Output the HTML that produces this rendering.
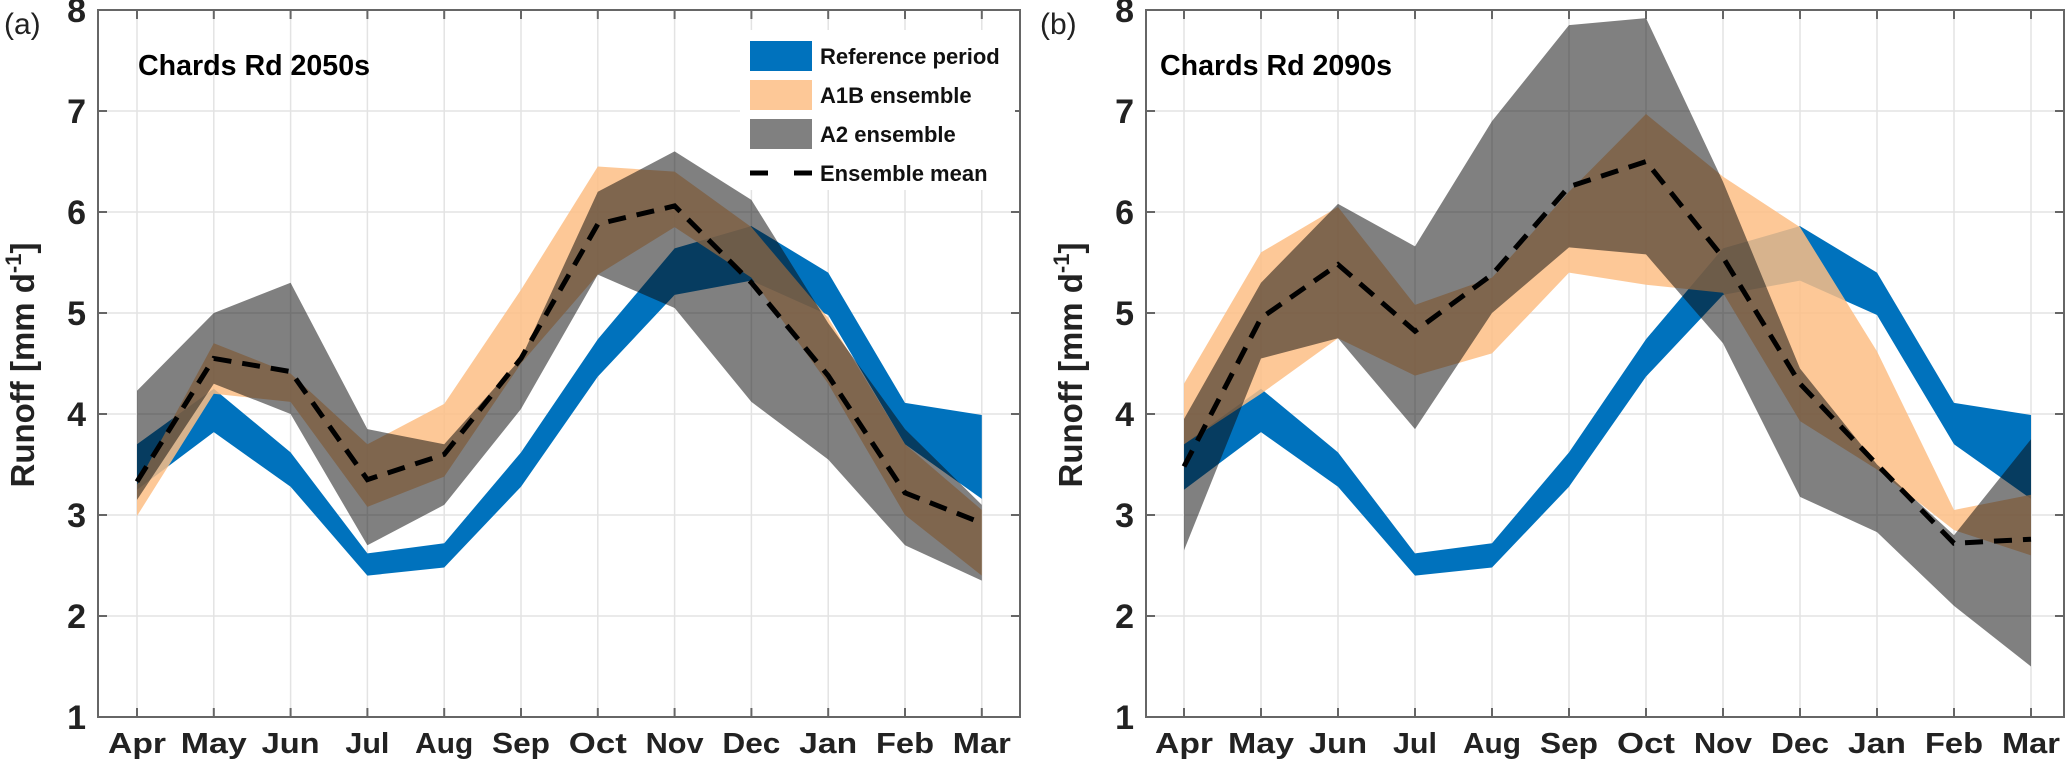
<!DOCTYPE html>
<html><head><meta charset="utf-8">
<style>
html,body{margin:0;padding:0;background:#fff;}
svg{display:block;font-family:"Liberation Sans",sans-serif;}
</style></head>
<body>
<svg id="chart" width="2067" height="770" viewBox="0 0 2067 770" xmlns="http://www.w3.org/2000/svg"></svg>
<script>
const months = ["Apr","May","Jun","Jul","Aug","Sep","Oct","Nov","Dec","Jan","Feb","Mar"];
const yTicks = [1,2,3,4,5,6,7,8];
// Reference period (same in both panels)
const refLow  = [3.25,3.82,3.28,2.40,2.48,3.28,4.37,5.18,5.32,4.98,3.70,3.16];
const refHigh = [3.70,4.25,3.62,2.62,2.72,3.62,4.74,5.64,5.86,5.40,4.11,3.99];
// Panel (a) 2050s
const a1bLowA  = [2.99,4.20,4.12,3.08,3.38,4.50,5.38,5.85,5.35,4.30,3.00,2.40];
const a1bHighA = [3.30,4.70,4.40,3.70,4.10,5.23,6.45,6.40,5.85,4.95,3.70,3.05];
const a2LowA   = [3.15,4.30,4.00,2.70,3.10,4.05,5.38,5.05,4.12,3.55,2.70,2.35];
const a2HighA  = [4.23,5.00,5.30,3.85,3.70,4.55,6.20,6.60,6.12,4.90,3.85,3.10];
const meanA    = [3.33,4.55,4.42,3.35,3.60,4.55,5.88,6.06,5.30,4.38,3.22,2.92];
// Panel (b) 2090s
const a1bLowB  = [3.70,4.20,4.75,4.38,4.60,5.40,5.28,5.20,3.93,3.45,2.85,2.60];
const a1bHighB = [4.30,5.60,6.05,5.08,5.35,6.20,6.97,6.35,5.85,4.62,3.05,3.20];
const a2LowB   = [2.65,4.55,4.75,3.85,5.00,5.65,5.58,4.70,3.18,2.83,2.10,1.50];
const a2HighB  = [3.95,5.30,6.08,5.66,6.90,7.85,7.92,6.30,4.45,3.50,2.80,3.75];
const meanB    = [3.48,4.95,5.48,4.82,5.38,6.25,6.50,5.55,4.30,3.50,2.72,2.76];

const svg = document.getElementById('chart');
const NS = "http://www.w3.org/2000/svg";
const ORANGE = '#fdbe85';
const GRAY = '#0b0b0b', GRAY_OP = 0.52;
function mk(tag, attrs, parent){
  const e = document.createElementNS(NS, tag);
  for (const k in attrs) e.setAttribute(k, attrs[k]);
  (parent||svg).appendChild(e);
  return e;
}
function panel(cfg){
  const g = mk('g', {});
  
  
  const xs = i => cfg.x0 + i*cfg.dx;
  const ys = v => 717 - (v-1)*101;
  const left = cfg.axisX, right = cfg.right, top = ys(8), bot = ys(1);
  yTicks.forEach(t => {
    const l = mk('line',{x1:left,x2:right,y1:ys(t),y2:ys(t),stroke:'#e3e3e3','stroke-width':1.5},g);
    
    
  });
  months.forEach((m,i) => {
    const l = mk('line',{x1:xs(i),x2:xs(i),y1:top,y2:bot,stroke:'#e3e3e3','stroke-width':1.5},g);
    
    
  });
  function band(lo, hi, fill, op, nm){
    let d = 'M' + lo.map((v,i)=>xs(i)+','+ys(v)).join(' L');
    d += ' L' + hi.map((v,i)=>[xs(i),ys(v)]).reverse().map(p=>p[0]+','+p[1]).join(' L') + ' Z';
    const p = mk('path',{d:d,fill:fill,'fill-opacity':op},g);
    
    
  }
  band(refLow, refHigh, '#0072bd', 1, 'reference-band');
  band(cfg.a1bLow, cfg.a1bHigh, ORANGE, 0.85, 'a1b-band');
  band(cfg.a2Low, cfg.a2High, GRAY, GRAY_OP, 'a2-band');
  const ml = mk('polyline',{points:cfg.mean.map((v,i)=>xs(i)+','+ys(v)).join(' '),fill:'none',stroke:'#000','stroke-width':5,'stroke-dasharray':'18 11'},g);
  
  
  const box = mk('rect',{x:left,y:top,width:right-left,height:bot-top,fill:'none',stroke:'#666','stroke-width':2},g);
  
  
  yTicks.forEach(t => {
    mk('line',{x1:left,x2:left+9,y1:ys(t),y2:ys(t),stroke:'#666','stroke-width':2},g);
    mk('line',{x1:right,x2:right-9,y1:ys(t),y2:ys(t),stroke:'#666','stroke-width':2},g);
    const tx = mk('text',{x:left-12,y:ys(t)+12,'text-anchor':'end','font-size':34,'font-weight':'bold',fill:'#222'},g);
    tx.textContent = t;
    
    
  });
  months.forEach((m,i) => {
    mk('line',{x1:xs(i),x2:xs(i),y1:bot,y2:bot-9,stroke:'#666','stroke-width':2},g);
    mk('line',{x1:xs(i),x2:xs(i),y1:top,y2:top+9,stroke:'#666','stroke-width':2},g);
    const tx = mk('text',{x:xs(i),y:753,'text-anchor':'middle','font-size':29,'font-weight':'bold',fill:'#222',textLength:(m==='Jul'?44:m==='May'?66:58),lengthAdjust:'spacingAndGlyphs'},g);
    tx.textContent = m;
    
    
  });
  const yt = mk('text',{x:0,y:0,transform:'translate('+(left-64)+',365) rotate(-90)','text-anchor':'middle','font-size':33,'font-weight':'bold',fill:'#222'},g);
  yt.innerHTML = 'Runoff [mm d<tspan dy="-13" font-size="22">-1</tspan><tspan dy="13">]</tspan>';
  
  
  const ti = mk('text',{x:cfg.titleX,y:75,'font-size':29,'font-weight':'bold',fill:'#000',textLength:232,lengthAdjust:'spacingAndGlyphs'},g);
  ti.textContent = cfg.title;
  
  
  const pl = mk('text',{x:cfg.labelX,y:34,'font-size':30,fill:'#222'},g);
  pl.textContent = cfg.label;
  
  
}
panel({name:'panel-a',x0:137,dx:76.8,axisX:98,right:1020,a1bLow:a1bLowA,a1bHigh:a1bHighA,a2Low:a2LowA,a2High:a2HighA,mean:meanA,title:'Chards Rd 2050s',titleX:138,label:'(a)',labelX:4});
panel({name:'panel-b',x0:1184,dx:77,axisX:1146,right:2064,a1bLow:a1bLowB,a1bHigh:a1bHighB,a2Low:a2LowB,a2High:a2HighB,mean:meanB,title:'Chards Rd 2090s',titleX:1160,label:'(b)',labelX:1040});

const lg = mk('g',{});


mk('rect',{x:740,y:30,width:275,height:160,fill:'#fff'},lg);
const items = [['Reference period','#0072bd',1],['A1B ensemble',ORANGE,0.85],['A2 ensemble',GRAY,GRAY_OP],['Ensemble mean',null,0]];
items.forEach((it,k) => {
  const cy = 56 + k*39;
  if (it[1]) {
    const r = mk('rect',{x:750,y:cy-15,width:62,height:30,fill:it[1],'fill-opacity':it[2]},lg);
    
    
  } else {
    const l = mk('line',{x1:750,x2:812,y1:cy,y2:cy,stroke:'#000','stroke-width':5,'stroke-dasharray':'18 26'},lg);
    
    
  }
  const t = mk('text',{x:820,y:cy+8,'font-size':22,'font-weight':'bold',fill:'#111'},lg);
  t.textContent = it[0];
  
  
});
</script>
</body></html>
